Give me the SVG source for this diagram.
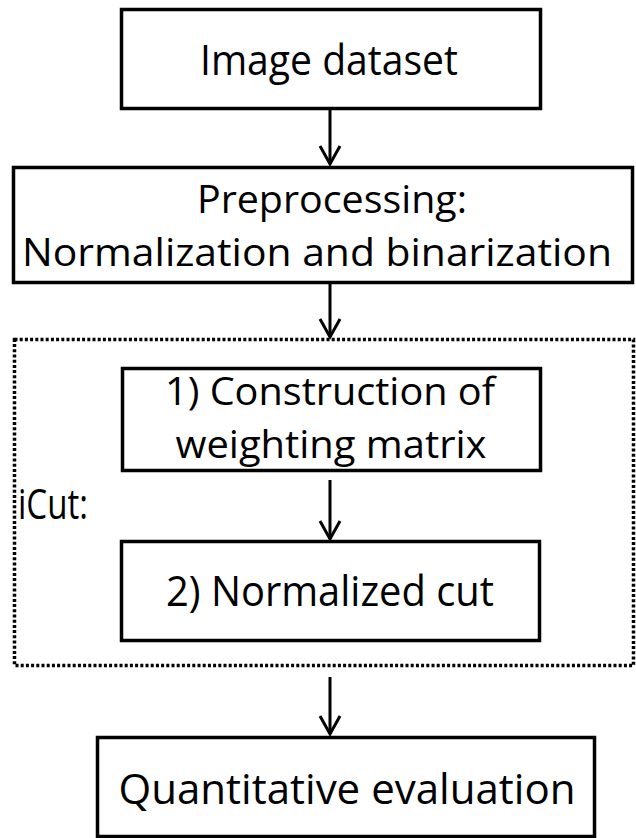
<svg xmlns="http://www.w3.org/2000/svg" width="636" height="838" viewBox="0 0 636 838">
<style>
.box{fill:#fff;stroke:#000;stroke-width:3.5}
.t{font-family:"Open Sans","Noto Sans","Liberation Sans",sans-serif;font-size:42px;fill:#000;text-anchor:middle}
.s{font-size:39px}
.c{stroke:#000;stroke-width:3;fill:none}
.grp{fill:none;stroke:#000;stroke-width:3.5;stroke-dasharray:3 2.2}
</style>
<defs>
<marker id="ah" markerWidth="24" markerHeight="24" viewBox="0 0 24 24" refX="20" refY="12" orient="auto" markerUnits="userSpaceOnUse">
<path d="M2,2 L20,12 L2,22" fill="none" stroke="#000" stroke-width="3"/>
</marker>
</defs>
<g id="icut">
<rect class="grp" x="14.5" y="339.5" width="619" height="326"/>
<text class="t" x="18" y="519" style="text-anchor:start" textLength="70" lengthAdjust="spacingAndGlyphs">iCut:</text>
</g>
<g id="n1">
<rect class="box" x="121.5" y="9.5" width="419" height="99"/>
<text class="t" x="329" y="75" textLength="258" lengthAdjust="spacingAndGlyphs">Image dataset</text>
</g>
<g id="n2">
<rect class="box" x="13.5" y="167.5" width="619" height="115"/>
<text class="t s" x="332" y="213" textLength="270" lengthAdjust="spacingAndGlyphs">Preprocessing:</text>
<text class="t s" x="317" y="266" textLength="590" lengthAdjust="spacingAndGlyphs">Normalization and binarization</text>
</g>
<g id="n3">
<rect class="box" x="122.5" y="368.5" width="418" height="102"/>
<text class="t s" x="330" y="405" textLength="330" lengthAdjust="spacingAndGlyphs">1) Construction of</text>
<text class="t s" x="331" y="458" textLength="311" lengthAdjust="spacingAndGlyphs">weighting matrix</text>
</g>
<g id="n4">
<rect class="box" x="121.5" y="541.5" width="418" height="99"/>
<text class="t" x="330" y="606" textLength="328" lengthAdjust="spacingAndGlyphs">2) Normalized cut</text>
</g>
<g id="n5">
<rect class="box" x="97.5" y="737.5" width="497" height="99"/>
<text class="t" x="347" y="804" textLength="457" lengthAdjust="spacingAndGlyphs">Quantitative evaluation</text>
</g>
<g id="connectors">
<line class="c" x1="330" y1="110" x2="330" y2="164" marker-end="url(#ah)"/>
<line class="c" x1="330" y1="284" x2="330" y2="337" marker-end="url(#ah)"/>
<line class="c" x1="330" y1="480" x2="330" y2="539" marker-end="url(#ah)"/>
<line class="c" x1="330" y1="677" x2="330" y2="734" marker-end="url(#ah)"/>
</g>
</svg>
